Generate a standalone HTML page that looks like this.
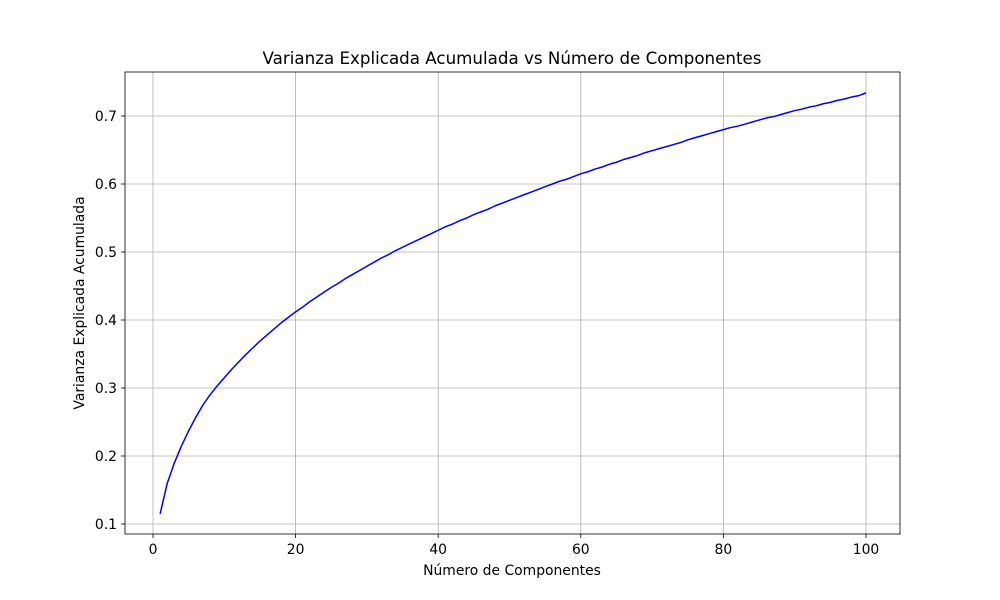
<!DOCTYPE html>
<html><head><meta charset="utf-8"><style>
body{margin:0;background:#fff;}
svg{display:block;font-family:"DejaVu Sans","Liberation Sans",sans-serif;}
</style></head><body>
<svg id="chart" width="1000" height="600">
<rect width="1000" height="600" fill="#fff"/>
<g id="grid"></g>
<g id="ticks"></g>
<path id="line" fill="none" stroke="#0000ff" stroke-width="1.5" stroke-linejoin="round"/>
<rect x="125" y="72" width="775" height="462" fill="none" stroke="#000" stroke-width="0.8"/>
<text x="512" y="64" text-anchor="middle" font-size="16.7">Varianza Explicada Acumulada vs Número de Componentes</text>
<text x="512" y="575" text-anchor="middle" font-size="13.9">Número de Componentes</text>
<text x="84" y="303" text-anchor="middle" font-size="13.9" transform="rotate(-90 84 303)">Varianza Explicada Acumulada</text>
</svg>
<script>
const xTicks=[0,20,40,60,80,100];
const yTicks=[0.1,0.2,0.3,0.4,0.5,0.6,0.7];
const yTickLabels=["0.1","0.2","0.3","0.4","0.5","0.6","0.7"];
const values=[.115,.160,.190,.215,.237,.257,.275,.290,.303,.315,
.327,.338,.349,.359,.369,.378,.387,.396,.404,.412,
.419,.427,.434,.441,.448,.454,.461,.467,.473,.479,
.485,.491,.496,.502,.507,.512,.517,.522,.527,.532,
.537,.541,.546,.550,.555,.559,.563,.568,.572,.576,
.580,.584,.588,.592,.596,.600,.604,.607,.611,.615,
.618,.622,.625,.629,.632,.636,.639,.642,.646,.649,
.652,.655,.658,.661,.665,.668,.671,.674,.677,.680,
.683,.685,.688,.691,.694,.697,.699,.702,.705,.708,
.710,.713,.715,.718,.720,.723,.725,.728,.730,.734];
const X=v=>153+(866-153)*v/100;
const Y=v=>524-(v-0.1)*680;
const NS='http://www.w3.org/2000/svg';
const grid=document.getElementById('grid'),ticks=document.getElementById('ticks');
function mk(tag,attrs,parent){const e=document.createElementNS(NS,tag);for(const k in attrs)e.setAttribute(k,attrs[k]);parent.appendChild(e);return e;}
xTicks.forEach(t=>{
 const g=mk('line',{x1:X(t),x2:X(t),y1:72,y2:534,stroke:'#b0b0b0','stroke-width':0.8},grid);
 
 
 mk('line',{x1:X(t),x2:X(t),y1:534,y2:538,stroke:'#000','stroke-width':0.8},ticks);
 const tx=mk('text',{x:X(t),y:554,'text-anchor':'middle','font-size':13.9},ticks);
 tx.textContent=t;
 
 
});
yTicks.forEach((t,i)=>{
 const g=mk('line',{x1:125,x2:900,y1:Y(t),y2:Y(t),stroke:'#b0b0b0','stroke-width':0.8},grid);
 
 
 mk('line',{x1:121,x2:125,y1:Y(t),y2:Y(t),stroke:'#000','stroke-width':0.8},ticks);
 const tx=mk('text',{x:117,y:Y(t)+5,'text-anchor':'end','font-size':13.9},ticks);
 tx.textContent=yTickLabels[i];
 
 
});
document.getElementById('line').setAttribute('d',values.map((v,i)=>(i?'L':'M')+X(i+1).toFixed(2)+','+Y(v).toFixed(2)).join(''));
</script>
</body></html>
